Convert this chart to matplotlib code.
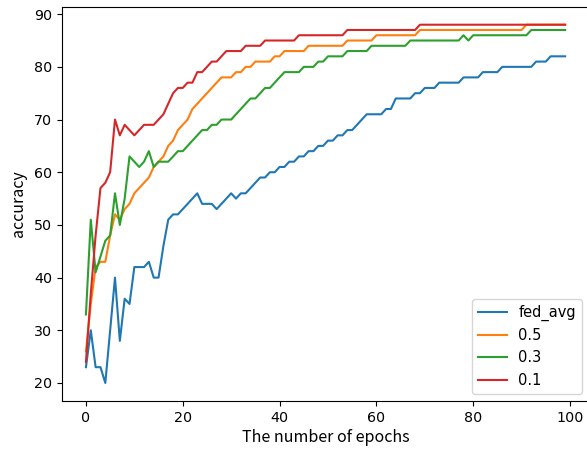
import matplotlib.pyplot as plt

epochs = list(range(100))

fed_avg = [23, 30, 23, 23, 20, 30, 40, 28, 36, 35,
           42, 42, 42, 43, 40, 40, 46, 51, 52, 52,
           53, 54, 55, 56, 54, 54, 54, 53, 54, 55,
           56, 55, 56, 56, 57, 58, 59, 59, 60, 60,
           61, 61, 62, 62, 63, 63, 64, 64, 65, 65,
           66, 66, 67, 67, 68, 68, 69, 70, 71, 71,
           71, 71, 72, 72, 74, 74, 74, 74, 75, 75,
           76, 76, 76, 77, 77, 77, 77, 77, 78, 78,
           78, 78, 79, 79, 79, 79, 80, 80, 80, 80,
           80, 80, 80, 81, 81, 81, 82, 82, 82, 82]

p05 = [26, 35, 42, 43, 43, 48, 52, 51, 53, 54,
       56, 57, 58, 59, 61, 62, 63, 65, 66, 68,
       69, 70, 72, 73, 74, 75, 76, 77, 78, 78,
       78, 79, 79, 80, 80, 81, 81, 81, 81, 82,
       82, 83, 83, 83, 83, 83, 84, 84, 84, 84,
       84, 84, 84, 84, 85, 85, 85, 85, 85, 85,
       86, 86, 86, 86, 86, 86, 86, 86, 86, 87,
       87, 87, 87, 87, 87, 87, 87, 87, 87, 87,
       87, 87, 87, 87, 87, 87, 87, 87, 87, 87,
       87, 88, 88, 88, 88, 88, 88, 88, 88, 88]

p03 = [33, 51, 41, 44, 47, 48, 56, 50, 55, 63,
       62, 61, 62, 64, 61, 62, 62, 62, 63, 64,
       64, 65, 66, 67, 68, 68, 69, 69, 70, 70,
       70, 71, 72, 73, 74, 74, 75, 76, 76, 77,
       78, 79, 79, 79, 79, 80, 80, 80, 81, 81,
       82, 82, 82, 82, 83, 83, 83, 83, 83, 84,
       84, 84, 84, 84, 84, 84, 84, 85, 85, 85,
       85, 85, 85, 85, 85, 85, 85, 85, 86, 85,
       86, 86, 86, 86, 86, 86, 86, 86, 86, 86,
       86, 86, 87, 87, 87, 87, 87, 87, 87, 87]

p01 = [24, 37, 48, 57, 58, 60, 70, 67, 69, 68,
       67, 68, 69, 69, 69, 70, 71, 73, 75, 76,
       76, 77, 77, 79, 79, 80, 81, 81, 82, 83,
       83, 83, 83, 84, 84, 84, 84, 85, 85, 85,
       85, 85, 85, 85, 86, 86, 86, 86, 86, 86,
       86, 86, 86, 86, 87, 87, 87, 87, 87, 87,
       87, 87, 87, 87, 87, 87, 87, 87, 87, 88,
       88, 88, 88, 88, 88, 88, 88, 88, 88, 88,
       88, 88, 88, 88, 88, 88, 88, 88, 88, 88,
       88, 88, 88, 88, 88, 88, 88, 88, 88, 88]

fig = plt.figure(figsize=(5.87, 4.53), dpi=100)
ax = fig.add_axes([0.1056, 0.115, 0.898, 0.87])

ax.plot(epochs, fed_avg, label='fed_avg')
ax.plot(epochs, p05, label='0.5')
ax.plot(epochs, p03, label='0.3')
ax.plot(epochs, p01, label='0.1')

label_font = ['Noto Sans CJK KR', 'DejaVu Sans']
ax.set_xlabel('The number of epochs', family=label_font, fontsize=11.5, labelpad=3)
ax.set_ylabel('accuracy', family=label_font, fontsize=11.5, labelpad=5)
ax.tick_params(labelsize=10.3)
ax.legend(loc='lower right', fontsize=10.5)

fig.savefig('out.png', dpi=100)
